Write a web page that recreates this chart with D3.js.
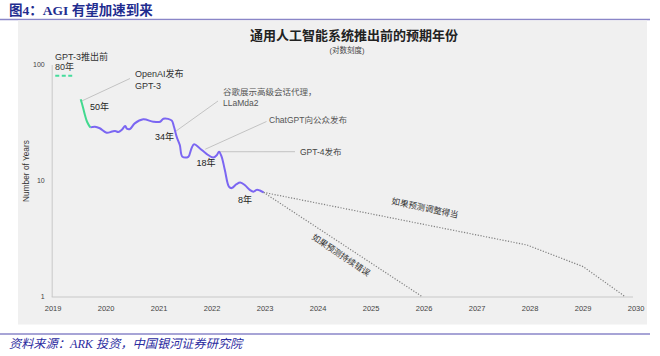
<!DOCTYPE html>
<html><head><meta charset="utf-8">
<script src="https://cdn.jsdelivr.net/npm/d3@7/dist/d3.min.js"></script>
<style>
body{margin:0;background:#fff;}
svg{display:block;font-family:"Liberation Sans","Noto Sans CJK SC",sans-serif;}
</style></head>
<body><svg id="c" width="660" height="356"></svg>
<script>
// ---- data ----
const yearTicks = [2019,2020,2021,2022,2023,2024,2025,2026,2027,2028,2029,2030];
const yTicks = [1,10,100];
const preGpt3Value = 80;
const greenYears  = [2019.53,2019.57,2019.61,2019.65,2019.71];
const greenValues = [50.1,43.3,36.7,32.1,28.7];
const purpleYears = [2019.71,2019.80,2019.89,2020.02,2020.12,2020.18,2020.24,2020.30,2020.37,2020.40,2020.46,2020.55,2020.71,2020.90,2021.03,2021.09,2021.18,2021.25,2021.29,2021.34,2021.40,2021.45,2021.56,2021.62,2021.67,2021.78,2021.91,2022.03,2022.10,2022.14,2022.19,2022.25,2022.33,2022.38,2022.47,2022.54,2022.63,2022.72,2022.79,2022.85,2022.91,2022.98];
const purpleValues = [28.7,29.1,28.2,25.8,26.4,26.7,26.2,27.2,29.5,28.0,27.8,31.1,33.7,32.1,32.1,34.1,34.0,32.8,29.1,23.9,20.2,16.0,16.0,18.9,20.5,18.9,16.9,15.8,16.6,17.7,16.0,12.3,8.8,8.6,9.3,9.6,9.1,8.3,8.0,8.3,8.2,7.9];
const adjustYears  = [2022.98,2027.95,2029.01,2029.8];
const adjustValues = [7.9,2.78,1.81,1];
const wrongYears   = [2022.98,2025.97];
const wrongValues  = [7.9,1];

const svg = d3.select("#c");
// header
svg.append("text").attr("x",9).attr("y",15).attr("fill","#1f2d8f")
  .attr("font-family","'Liberation Serif','Noto Sans CJK SC',serif").attr("font-weight","bold").attr("font-size",13.5)
  .text("图4：AGI 有望加速到来");
svg.append("line").attr("x1",0).attr("x2",650).attr("y1",19.5).attr("y2",19.5).attr("stroke","#8a86c8").attr("stroke-width",1.5);
// panel
svg.append("rect").attr("x",18).attr("y",20.5).attr("width",629).attr("height",304).attr("fill","#f0f0f0");
svg.append("line").attr("x1",0).attr("x2",650).attr("y1",334).attr("y2",334).attr("stroke","#8a86c8").attr("stroke-width",1.5);
svg.append("text").attr("x",9).attr("y",348).attr("fill","#2b2ba0")
  .attr("font-family","'Liberation Serif','Noto Sans CJK SC',serif").attr("font-style","italic").attr("font-size",12.2)
  .text("资料来源：ARK 投资，中国银河证券研究院");

// titles
svg.append("text").attr("x",354).attr("y",40).attr("text-anchor","middle").attr("font-size",13).attr("font-weight","bold").attr("fill","#222")
  .text("通用人工智能系统推出前的预期年份");
svg.append("text").attr("x",347).attr("y",53).attr("text-anchor","middle").attr("font-size",7.5).attr("fill","#444").text("(对数刻度)");

const x = d3.scaleLinear().domain([2019,2030]).range([52.6,635.6]);
const y = d3.scaleLog().domain([1,100]).range([296.5,64.5]);

// axes
const xa = svg.append("g").attr("transform","translate(0,297)")
  .call(d3.axisBottom(x).tickValues(yearTicks).tickFormat(d3.format("d")).tickSize(0).tickPadding(9));
xa.select(".domain").attr("stroke","#c8c8c8").attr("d","M51.7,0H633");
xa.selectAll("text").attr("font-size",7.5).attr("fill","#444").attr("font-family","'Liberation Sans',sans-serif");
const ya = svg.append("g").attr("transform","translate(51.7,0)")
  .call(d3.axisLeft(y).tickValues(yTicks).tickFormat(d3.format("d")).tickSize(0).tickPadding(7));
ya.select(".domain").attr("stroke","#c8c8c8");
ya.selectAll("text").attr("font-size",7).attr("fill","#444").attr("font-family","'Liberation Sans',sans-serif");
svg.append("text").attr("transform","translate(29,171) rotate(-90)").attr("text-anchor","middle")
  .attr("font-size",8.3).attr("fill","#333").text("Number of Years");

// leader lines
const leaders = [
  {ay:2019.53, av:48, lx:130, ly:78.5},
  {ay:2021.32, av:26.5, lx:218, ly:101},
  {ay:2021.88, av:18.6, lx:266.5, ly:121.5},
  {ay:2022.14, av:17.7, lx:295, ly:151.7}
];
svg.selectAll(".ld").data(leaders).join("line").attr("class","ld")
  .attr("x1",d=>x(d.ay)).attr("y1",d=>y(d.av)).attr("x2",d=>d.lx).attr("y2",d=>d.ly)
  .attr("stroke","#bdbdbd").attr("stroke-width",0.9);

// pre-GPT3 dashed
svg.append("line").attr("x1",x(2019.05)).attr("x2",x(2019.37)).attr("y1",y(preGpt3Value)).attr("y2",y(preGpt3Value))
  .attr("stroke","#45dc9c").attr("stroke-width",1.8).attr("stroke-dasharray","4,2.5");

const line = d3.line().x(d=>x(d[0])).y(d=>y(d[1])).curve(d3.curveCatmullRom.alpha(0.5));
const lin = d3.line().x(d=>x(d[0])).y(d=>y(d[1]));
svg.append("path").attr("d",lin(d3.zip(adjustYears,adjustValues))).attr("fill","none")
  .attr("stroke","#808080").attr("stroke-width",1.2).attr("stroke-dasharray","1.2,1.6");
svg.append("path").attr("d",lin(d3.zip(wrongYears,wrongValues))).attr("fill","none")
  .attr("stroke","#808080").attr("stroke-width",1.2).attr("stroke-dasharray","1.2,1.6");
svg.append("path").attr("d",line(d3.zip(purpleYears,purpleValues))).attr("fill","none")
  .attr("stroke","#7b66f2").attr("stroke-width",2).attr("stroke-linejoin","round");
svg.append("path").attr("d",line(d3.zip(greenYears,greenValues))).attr("fill","none")
  .attr("stroke","#42d98f").attr("stroke-width",2);

// text annotations
const ann = [
  {t:"GPT-3推出前", x:55, y:57, s:9, c:"#333"},
  {t:"80年", x:55, y:67, s:9, c:"#333"},
  {t:"OpenAI发布", x:135, y:74, s:9, c:"#333"},
  {t:"GPT-3", x:135, y:85.5, s:9, c:"#333"},
  {t:"谷歌展示高级会话代理，", x:223, y:92, s:8.5, c:"#555"},
  {t:"LLaMda2", x:223, y:103, s:8.5, c:"#555"},
  {t:"ChatGPT向公众发布", x:269, y:120, s:8.5, c:"#555"},
  {t:"GPT-4发布", x:300, y:152, s:8.5, c:"#444"},
  {t:"50年", x:90, y:107, s:9, c:"#222"},
  {t:"34年", x:155, y:136.5, s:9, c:"#222"},
  {t:"18年", x:196.5, y:163, s:9, c:"#222"},
  {t:"8年", x:238, y:199.5, s:9, c:"#222"}
];
svg.selectAll(".an").data(ann).join("text").attr("class","an")
  .attr("x",d=>d.x).attr("y",d=>d.y).attr("dominant-baseline","central")
  .attr("font-size",d=>d.s).attr("fill",d=>d.c).text(d=>d.t);

svg.append("text").attr("transform","translate(425,208) rotate(12)").attr("text-anchor","middle").attr("dominant-baseline","central")
  .attr("font-size",8.5).attr("fill","#333").text("如果预测调整得当");
svg.append("text").attr("transform","translate(341,255) rotate(34)").attr("text-anchor","middle").attr("dominant-baseline","central")
  .attr("font-size",8.5).attr("fill","#333").text("如果预测持续错误");
</script></body></html>
